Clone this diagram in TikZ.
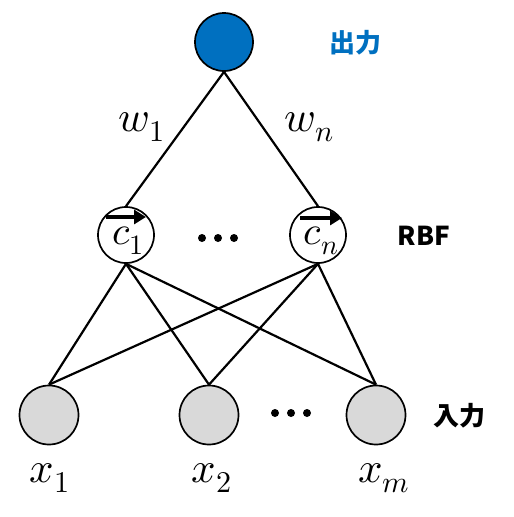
\documentclass[tikz,border=0pt]{standalone}
\usepackage{fontspec}
\usepackage{unicode-math}
\setmathfont{Latin Modern Math}
\newfontfamily\jpfont{Noto Sans CJK JP}
\usetikzlibrary{arrows.meta}
\definecolor{outblue}{HTML}{0070C0}
\definecolor{ingray}{HTML}{D9D9D9}
\tikzset{
  neuron/.style={circle, draw=black, line width=1.7pt, inner sep=0pt},
  outn/.style={neuron, fill=outblue, minimum size=58pt},
  rbfn/.style={neuron, fill=white, minimum size=56pt},
  inn/.style={neuron, fill=ingray, minimum size=59pt},
  conn/.style={line width=2.2pt, black},
  vecarr/.style={line width=4.6pt, -{Triangle[length=12pt,width=14pt]}},
  dotn/.style={circle, fill=black, inner sep=0pt, minimum size=8pt},
  mathlbl/.style={inner sep=0pt, font=\fontsize{43}{43}\selectfont},
  clbl/.style={inner sep=0pt, font=\fontsize{40}{40}\selectfont},
  jplbl/.style={inner sep=0pt, font=\jpfont\bfseries\fontsize{26}{26}\selectfont},
}
\begin{document}
\begin{tikzpicture}[x=1pt,y=-1pt]
\useasboundingbox (0,0) rectangle (514,517);
% nodes
\node[outn] (out) at (224,42) {};
\node[rbfn] (c1) at (126,235) {};
\node[rbfn] (cn) at (318,235) {};
\node[inn] (x1) at (49,415) {};
\node[inn] (x2) at (209,415) {};
\node[inn] (xm) at (376,415) {};
% connectors
\draw[conn] (out.south) -- (c1.north);
\draw[conn] (out.south) -- (cn.north);
\foreach \r in {c1,cn}{
  \foreach \i in {x1,x2,xm}{
    \draw[conn] (\r.south) -- (\i.north);
  }
}
% node contents
\node[clbl] (c1t) at (128,241) {$c_1$};
\node[clbl] (cnt) at (321,241) {$c_n$};
\draw[vecarr] ([xshift=-20pt,yshift=18pt]c1.center) -- ([xshift=20pt,yshift=18pt]c1.center);
\draw[vecarr] ([xshift=-18pt,yshift=17pt]cn.center) -- ([xshift=24pt,yshift=17pt]cn.center);
% weight labels
\node[mathlbl] (w1) at (142,127) {$w_1$};
\node[mathlbl] (wn) at (309,127) {$w_n$};
% dots
\node[dotn] (d1) at (202,238) {};
\node[dotn] (d2) at (218,238) {};
\node[dotn] (d3) at (234,238) {};
\node[dotn] (e1) at (275,413) {};
\node[dotn] (e2) at (291,413) {};
\node[dotn] (e3) at (307,413) {};
% input labels
\node[mathlbl] (lx1) at (50,478) {$x_1$};
\node[mathlbl] (lx2) at (212,478) {$x_2$};
\node[mathlbl] (lxm) at (384,478) {$x_m$};
% layer labels
\node[jplbl, text=outblue] (lout) at (355,43) {出力};
\node[jplbl] (lrbf) at (424,236) {RBF};
\node[jplbl] (lin) at (459,416) {入力};
\end{tikzpicture}
\end{document}
